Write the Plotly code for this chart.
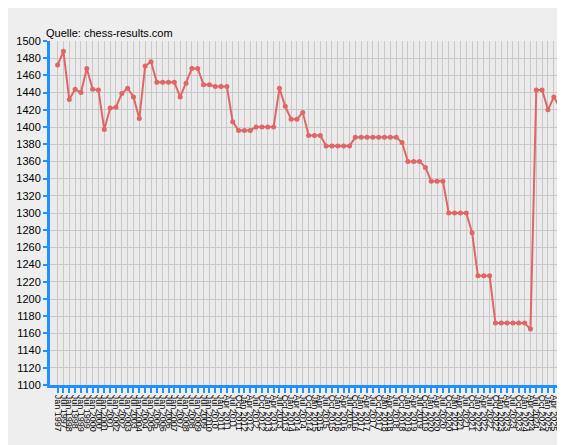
import plotly.graph_objects as go

# Elo-Werte
elo = [1472, 1488, 1432, 1444, 1440, 1468, 1444, 1443, 1397, 1422, 1423, 1439, 1445, 1435, 1410,
       1471, 1476, 1452, 1452, 1452, 1452, 1435, 1451, 1468, 1468, 1449, 1449, 1447, 1447, 1447,
       1406, 1396, 1396, 1396, 1400, 1400, 1400, 1400, 1445, 1424, 1409, 1409, 1417, 1390, 1390,
       1390, 1378, 1378, 1378, 1378, 1378, 1388, 1388, 1388, 1388, 1388, 1388, 1388, 1388, 1382,
       1360, 1360, 1360, 1353, 1337, 1337, 1337, 1300, 1300, 1300, 1300, 1277, 1227, 1227, 1227,
       1172, 1172, 1172, 1172, 1172, 1172, 1165, 1443, 1443, 1420, 1435, 1423]

# Datumslabels: halbjaehrlich bis Jan 2011, danach quartalsweise bis Jul 2025
halfyear = ["Jan", "Jul"]
quarter = ["Jan", "Apr", "Jul", "Oct"]
labels = [f"{m} {y}" for y in range(1997, 2011) for m in halfyear] + ["Jan 2011"]
labels += [f"{m} {y}" for y in range(2011, 2026) for m in quarter][1:]
labels = labels[:len(elo)]

x = list(range(len(elo)))
fig = go.Figure(go.Scatter(
    x=x, y=elo, mode="lines+markers",
    line=dict(color="#e06666", width=2),
    marker=dict(color="#e06666", size=5),
))
fig.update_layout(
    width=565, height=445,
    margin=dict(l=40, r=8, t=33, b=68),
    paper_bgcolor="#eeeeee", plot_bgcolor="#ebebeb",
    font=dict(family="Liberation Sans, Arial", size=10, color="black"),
    showlegend=False,
    annotations=[
        dict(text="<b>AUT-Elozahlen von Elmar Binder, ID:100978</b>", xref="paper", yref="paper",
             x=-0.012, y=1.095, xanchor="left", yanchor="bottom", showarrow=False,
             font=dict(size=14)),
        dict(text="Quelle: chess-results.com", xref="paper", yref="paper",
             x=-0.012, y=1.0, xanchor="left", yanchor="bottom", showarrow=False,
             font=dict(size=11)),
    ],
)
fig.update_xaxes(
    tickmode="array", tickvals=x, ticktext=labels, tickangle=90,
    tickfont=dict(size=9), range=[-1.3, len(elo) - 0.6],
    showgrid=True, gridcolor="#c8c8c8", gridwidth=1,
    showline=True, linecolor="#1e90ff", linewidth=3,
    ticks="outside", tickcolor="#1e90ff", ticklen=5, tickwidth=2,
    zeroline=False,
)
fig.update_yaxes(
    range=[1100, 1500], dtick=20, tickfont=dict(size=11),
    showgrid=True, gridcolor="#c8c8c8", gridwidth=1,
    showline=True, linecolor="#1e90ff", linewidth=3,
    ticks="outside", tickcolor="#1e90ff", ticklen=4, tickwidth=2,
    zeroline=False,
)
fig.write_html("out.html")
